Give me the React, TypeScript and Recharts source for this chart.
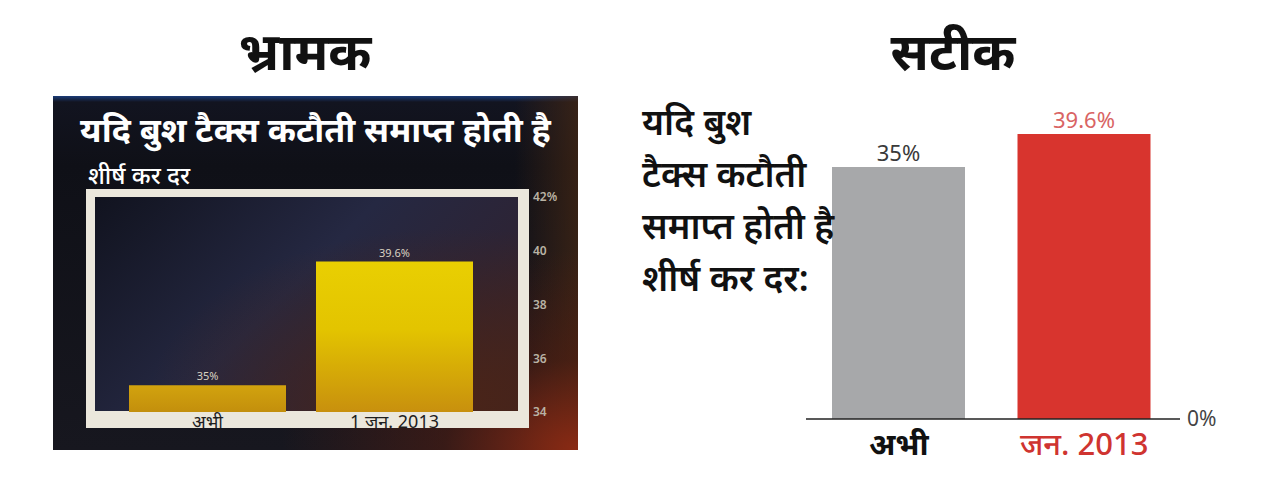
import { BarChart, Bar, XAxis, YAxis, Cell, LabelList } from 'recharts'

// बाएँ: भ्रामक चार्ट (अक्ष 34% से शुरू)
const misleadingCategories = ['अभी', '1 जन. 2013']
const misleadingValues = [35, 39.6]
const misleadingTicks = [34, 36, 38, 40, 42]

// दाएँ: सटीक चार्ट (अक्ष 0% से शुरू)
const accurateCategories = ['अभी', 'जन. 2013']
const accurateValues = [35, 39.6]
const accurateTicks = [0]

const FONT = "'Noto Sans', 'Noto Sans Devanagari', 'Lohit Devanagari', sans-serif"

const misleadingData = misleadingCategories.map((name, i) => ({ name, value: misleadingValues[i] }))
const accurateData = accurateCategories.map((name, i) => ({ name, value: accurateValues[i] }))

const accurateBarColors = ['#a7a8aa', '#d8342e']
const accurateLabelColors = ['#3a3a3a', '#d96464']
const accurateTickColors = ['#111111', '#cf3430']

function MisleadingTick(props: any) {
  const { x, y, payload } = props
  return (
    <text x={x} y={y + 16} textAnchor="middle" fill="#1e1e1e" fontSize={18} fontFamily={FONT}>
      {payload.value}
    </text>
  )
}

function AccurateTick(props: any) {
  const { x, y, payload, index } = props
  const i = payload.index ?? index ?? 0
  return (
    <text
      x={x}
      y={y + 36}
      textAnchor="middle"
      fill={accurateTickColors[i]}
      fontSize={31}
      fontWeight={i === 0 ? 700 : 500}
      fontFamily={FONT}
    >
      {payload.value}
    </text>
  )
}

function AccurateLabel(props: any) {
  const { x, y, width, value, index } = props
  return (
    <text
      x={x + width / 2}
      y={y - 6}
      textAnchor="middle"
      fill={accurateLabelColors[index]}
      fontSize={22}
      fontFamily={FONT}
    >
      {value}%
    </text>
  )
}

function MisleadingLabel(props: any) {
  const { x, y, width, value } = props
  return (
    <text x={x + width / 2} y={y - 5} textAnchor="middle" fill="#d9d2c2" fontSize={11} fontFamily={FONT}>
      {value}%
    </text>
  )
}

export default function App() {
  return (
    <div
      style={{
        position: 'absolute',
        left: 0,
        top: 0,
        width: 1264,
        height: 480,
        background: '#ffffff',
        fontFamily: FONT,
        overflow: 'hidden',
      }}
    >
      {/* शीर्षक */}
      <div style={{ position: 'absolute', left: 155, top: 14, width: 300, textAlign: 'center', fontSize: 52, fontWeight: 700, color: '#111' }}>
        भ्रामक
      </div>
      <div style={{ position: 'absolute', left: 803, top: 14, width: 300, textAlign: 'center', fontSize: 52, fontWeight: 700, color: '#111' }}>
        सटीक
      </div>

      {/* भ्रामक पैनल की पृष्ठभूमि */}
      <div
        style={{
          position: 'absolute',
          left: 53,
          top: 96,
          width: 525,
          height: 354,
          background:
            'radial-gradient(ellipse at 100% 100%, #8a2a14 0%, rgba(90,30,15,0.5) 18%, rgba(0,0,0,0) 40%), linear-gradient(90deg, rgba(0,0,0,0) 88%, rgba(70,40,20,0.7) 100%), linear-gradient(180deg, #1b3c78 0px, #121420 6px, #0f1017 70px, #17171f 100%)',
        }}
      />
      <div style={{ position: 'absolute', left: 53, top: 106, width: 525, textAlign: 'center', fontSize: 34, fontWeight: 700, color: '#ffffff' }}>
        यदि बुश टैक्स कटौती समाप्त होती है
      </div>
      <div style={{ position: 'absolute', left: 88, top: 158, fontSize: 24, fontWeight: 500, color: '#ffffff' }}>
        शीर्ष कर दर
      </div>
      <div
        style={{
          position: 'absolute',
          left: 86,
          top: 189,
          width: 443,
          height: 239,
          boxSizing: 'border-box',
          borderStyle: 'solid',
          borderColor: '#ebe7dc',
          borderWidth: '8px 11px 17px 9px',
          background:
            'radial-gradient(ellipse at 85% 95%, #4a2418 0%, rgba(60,30,30,0) 60%), linear-gradient(135deg, #11131f 0%, #252842 45%, #2c2436 70%, #3a2222 100%)',
        }}
      />
      <div style={{ position: 'absolute', left: 53, top: 96 }}>
        <BarChart
          width={525}
          height={354}
          data={misleadingData}
          margin={{ top: 101, right: 10, bottom: 8, left: 42 }}
        >
          <defs>
            <linearGradient id="goldLow" x1="0" y1="0" x2="0" y2="1">
              <stop offset="0%" stopColor="#d2a30e" />
              <stop offset="100%" stopColor="#c38f0c" />
            </linearGradient>
            <linearGradient id="goldHigh" x1="0" y1="0" x2="0" y2="1">
              <stop offset="0%" stopColor="#e9cf02" />
              <stop offset="45%" stopColor="#e3c400" />
              <stop offset="100%" stopColor="#c8900e" />
            </linearGradient>
          </defs>
          <XAxis
            dataKey="name"
            axisLine={false}
            tickLine={false}
            tickSize={0}
            tickMargin={0}
            height={30}
            padding={{ left: 19, right: 30 }}
            tick={<MisleadingTick />}
            interval={0}
          />
          <YAxis
            orientation="right"
            domain={[34, 42]}
            ticks={misleadingTicks}
            axisLine={false}
            tickLine={false}
            tickSize={0}
            tickMargin={15}
            width={50}
            tickFormatter={(v) => (v === 42 ? `${v}%` : `${v}`)}
            tick={{ fill: '#b9b2a4', fontSize: 12, fontWeight: 600, fontFamily: FONT }}
          />
          <Bar dataKey="value" barSize={157} isAnimationActive={false}>
            <Cell fill="url(#goldLow)" />
            <Cell fill="url(#goldHigh)" />
            <LabelList dataKey="value" content={<MisleadingLabel />} />
          </Bar>
        </BarChart>
      </div>

      {/* सटीक पैनल */}
      <div style={{ position: 'absolute', left: 780, top: 100 }}>
        <BarChart
          width={480}
          height={370}
          data={accurateData}
          margin={{ top: 31, right: 20, bottom: 1, left: 26 }}
        >
          <XAxis
            dataKey="name"
            axisLine={{ stroke: '#222', strokeWidth: 1.5 }}
            tickLine={false}
            tickSize={0}
            tickMargin={0}
            height={50}
            padding={{ left: 0, right: 3 }}
            tick={<AccurateTick />}
            interval={0}
          />
          <YAxis
            orientation="right"
            domain={[0, 40]}
            ticks={accurateTicks}
            axisLine={false}
            tickLine={false}
            tickSize={0}
            tickMargin={7}
            width={60}
            tickFormatter={(v) => `${v}%`}
            tick={{ fill: '#444', fontSize: 21, fontFamily: FONT }}
          />
          <Bar dataKey="value" barSize={133} isAnimationActive={false}>
            {accurateData.map((d, i) => (
              <Cell key={d.name} fill={accurateBarColors[i]} />
            ))}
            <LabelList dataKey="value" content={<AccurateLabel />} />
          </Bar>
        </BarChart>
      </div>
      <div style={{ position: 'absolute', left: 642, top: 96, fontSize: 36, fontWeight: 600, lineHeight: '52px', color: '#111', whiteSpace: 'nowrap' }}>
        <div>यदि बुश</div>
        <div>टैक्स कटौती</div>
        <div>समाप्त होती है</div>
        <div>शीर्ष कर दर:</div>
      </div>
    </div>
  )
}
